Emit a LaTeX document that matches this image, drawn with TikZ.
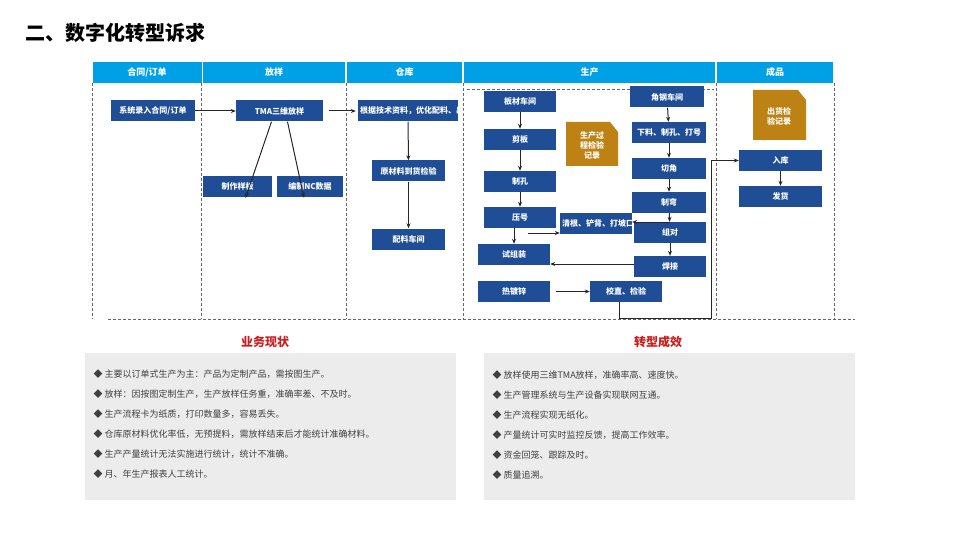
\documentclass[tikz,border=0pt]{standalone}
\usepackage{fontspec}
\setmainfont{Noto Sans CJK SC}
\usetikzlibrary{arrows.meta}
\definecolor{hdr}{RGB}{0,160,230}
\definecolor{bx}{RGB}{31,78,150}
\definecolor{gold}{RGB}{190,130,20}
\definecolor{redt}{RGB}{200,30,30}
\definecolor{grayb}{RGB}{236,236,236}
\tikzset{
 hd/.style={fill=hdr,text=white,font=\fontsize{9}{10}\selectfont\bfseries,inner sep=0,minimum height=21pt},
 bxs/.style={fill=bx,text=white,font=\fontsize{8}{9}\selectfont\bfseries,inner sep=1pt,align=center,minimum width=72pt,minimum height=21pt,text width=68pt},
 ar/.style={-{Stealth[length=5pt,width=4pt]},line width=1pt,black!85},
 dl/.style={densely dashed,black!60,line width=0.6pt},
 doc/.style={fill=gold,draw=none},
 bt/.style={anchor=west,font=\fontsize{9}{10}\selectfont,text=black!75}
}
\begin{document}
\begin{tikzpicture}[x=1pt,y=-1pt]
\useasboundingbox (0,0) rectangle (960,540);
\node[anchor=west,font=\fontsize{20}{22}\selectfont\bfseries] (title) at (22,33) {二、数字化转型诉求};
% headers
\node[hd,minimum width=109pt] (h1) at (147,72.5) {合同/订单};
\node[hd,minimum width=142pt] (h2) at (274,72.5) {放样};
\node[hd,minimum width=115pt] (h3) at (404.5,72.5) {仓库};
\node[hd,minimum width=251pt] (h4) at (589.5,72.5) {生产};
\node[hd,minimum width=116pt] (h5) at (775,72.5) {成品};
% dashed frame lines
\foreach \x in {92,201,346,463,716,834} \draw[dl] (\x,83) -- (\x,319);
\draw[dl] (108,319) -- (855,319);
\draw[dl] (467,89) -- (714,89);
% left boxes
\node[bxs,minimum width=84pt,text width=80pt] (a1) at (153,111) {系统录入合同/订单};
\node[bxs,minimum width=87pt,text width=83pt] (b1) at (279.5,111) {TMA三维放样};
\node[bxs,minimum width=69pt,text width=65pt] (b2) at (237.5,186.5) {制作样板};
\node[bxs,minimum width=66pt,text width=62pt] (b3) at (310,186.5) {编制NC数据};
\node[bxs,minimum width=100pt,text width=96pt] (c1) at (408,111) {根据技术资料，优化配料、出库};
\node[bxs,minimum width=73pt] (c2) at (408.5,171) {原材料到货检验};
\node[bxs,minimum width=73pt] (c3) at (408.5,239) {配料车间};
% production
\node[bxs] (p1) at (520,101.5) {板材车间};
\node[bxs] (p2) at (520,139.5) {剪板};
\node[bxs] (p3) at (520,181.5) {制孔};
\node[bxs] (p4) at (520,217.5) {压号};
\node[bxs] (p5) at (514,254.5) {试组装};
\node[bxs] (p6) at (514,291.5) {热镀锌};
\node[bxs] (q0) at (596,223.5) {清根、铲背、打坡口};
\node[bxs] (q9) at (626,291.5) {校直、检验};
\node[bxs,minimum width=74pt] (r1) at (667,97) {角钢车间};
\node[bxs,minimum width=74pt] (r2) at (669,132.5) {下料、制孔、打号};
\node[bxs,minimum width=74pt] (r3) at (669,168.5) {切角};
\node[bxs,minimum width=74pt] (r4) at (669,202.5) {制弯};
\node[bxs] (r5) at (670,232.5) {组对};
\node[bxs] (r6) at (670,266.5) {焊接};
\node[bxs,minimum width=83pt,text width=79pt] (f1) at (780.5,160.5) {入库};
\node[bxs,minimum width=83pt,text width=79pt] (f2) at (780.5,196.5) {发货};
% documents
\fill[doc] (566,122) -- (610,122) -- (618,132) -- (618,166) -- (566,166) -- cycle;
\node[text=white,font=\fontsize{8}{10}\selectfont\bfseries,align=center] (d1) at (592,145) {生产过\\程检验\\记录};
\fill[doc] (753,90) -- (798,90) -- (806,100) -- (806,140) -- (753,140) -- cycle;
\node[text=white,font=\fontsize{8}{10}\selectfont\bfseries,align=center] (d2) at (779,116) {出货检\\验记录};
% arrows
\draw[ar] (a1) -- (b1);
\draw[ar] ([xshift=6pt]b1.east) -- ([xshift=-2pt]c1.west);
\draw[ar] ([xshift=-8pt]b1.south) -- ([xshift=8pt,yshift=-22pt]b2.north);
\draw[ar] (b1.south) ++(8,0) coordinate (bs) -- ([xshift=-6pt,yshift=-22pt]b3.north);
\draw[ar] (c1) -- (c2);
\draw[ar] (c2) -- (c3);
\draw[ar] (p1) -- (p2);
\draw[ar] (p2) -- (p3);
\draw[ar] (p3) -- (p4);
\draw[ar] (p4.south) ++(-6,0) -- ([xshift=0pt]p5.north);
\draw[ar] (528,233) -- (q0.west |- 0,233);
\draw[ar] (r1) -- (r2);
\draw[ar] (r2) -- (r3);
\draw[ar] (r3) -- (r4);
\draw[ar] (r4) -- (r5);
\draw[ar] (r5) -- (r6);
\draw[ar] (670,222) -- (q0.east |- 0,222);
\draw[ar] (r6.west |- 0,264) -- (p5.east |- 0,264);
\draw[ar] (556,291.5) -- (q9.west);
\draw[ar] (q9.south) ++(-7,0) |- (711,318) -- (711,160.5) -- (f1.west);
\draw[ar] (f1) -- (f2);
% bottom
\node[font=\fontsize{12}{14}\selectfont\bfseries,text=redt] (t1) at (265,342) {业务现状};
\node[font=\fontsize{12}{14}\selectfont\bfseries,text=redt] (t2) at (658,342) {转型成效};
\fill[grayb] (85,353) rectangle (456,500);
\fill[grayb] (484,353) rectangle (855,500);
\node[bt] (l1) at (90,374) {◆ 主要以订单式生产为主：产品为定制产品，需按图生产。};
\node[bt] (l2) at (90,394) {◆ 放样：因按图定制生产，生产放样任务重，准确率差、不及时。};
\node[bt] (l3) at (90,414) {◆ 生产流程卡为纸质，打印数量多，容易丢失。};
\node[bt] (l4) at (90,434) {◆ 仓库原材料优化率低，无预提料，需放样结束后才能统计准确材料。};
\node[bt] (l5) at (90,454) {◆ 生产产量统计无法实施进行统计，统计不准确。};
\node[bt] (l6) at (90,474) {◆ 月、年生产报表人工统计。};
\node[bt] (m1) at (489,375) {◆ 放样使用三维TMA放样，准确率高、速度快。};
\node[bt] (m2) at (489,395) {◆ 生产管理系统与生产设备实现联网互通。};
\node[bt] (m3) at (489,415) {◆ 生产流程实现无纸化。};
\node[bt] (m4) at (489,435) {◆ 产量统计可实时监控反馈，提高工作效率。};
\node[bt] (m5) at (489,455) {◆ 资金回笼、跟踪及时。};
\node[bt] (m6) at (489,475) {◆ 质量追溯。};
\end{tikzpicture}
\end{document}
